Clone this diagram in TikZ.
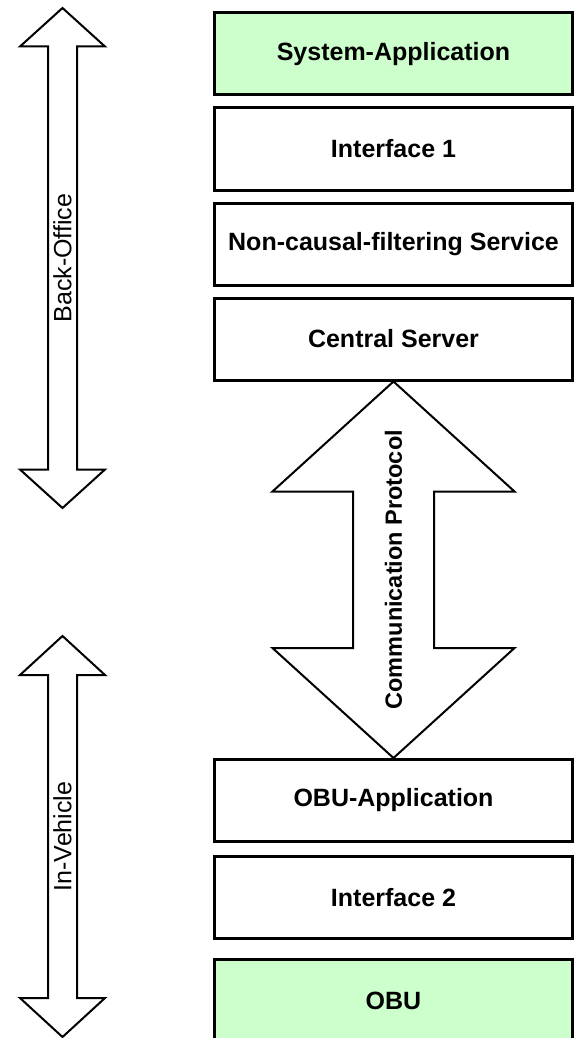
\documentclass[tikz,border=0pt]{standalone}
\usepackage{fontspec}
\setmainfont{Liberation Sans}
\usetikzlibrary{positioning,calc}
\definecolor{LayerGreen}{RGB}{204,255,204}
% hollow double arrow: tip, tip, head half width, head overhang, head length
\newcommand\dblarrow[5]{\draw[fat] (#1) -- ++(#3,#5) -- ++(-#4,0) |- ($(#2)+(#3,-#5)$) -- (#2) -- ++(-#3,-#5) -- ++(#4,0) |- ($(#1)+(-#3,#5)$) -- cycle;}

\begin{document}
\begin{tikzpicture}[x=0.5pt,y=-0.5pt,
node distance=5pt,
layer/.style={rectangle,draw=black,line width=1.5pt,fill=white,minimum width=179pt,minimum height=41pt,inner sep=0pt,font=\fontsize{12.5pt}{15pt}\selectfont\bfseries},
applayer/.style={layer,fill=LayerGreen},
fat/.style={draw=black,line width=1pt,fill=white},
side/.style={rotate=90,inner sep=0pt,font=\fontsize{12.5pt}{15pt}\selectfont}
]
\useasboundingbox (0,0) rectangle (577,1038);
% back-office stack
\node[applayer] (sysapp) at (393.5,54) {System-Application};
\node[layer,below=of sysapp] (if1) {Interface 1};
\node[layer,below=of if1] (ncf) {Non-causal-filtering Service};
\node[layer,below=of ncf] (cs) {Central Server};
% in-vehicle stack
\node[layer] (obuapp) at (393.5,800.5) {OBU-Application};
\node[layer,below=6pt of obuapp] (if2) {Interface 2};
\node[applayer,below=9pt of if2] (obu) {OBU};
% side arrows
\coordinate (bo1) at (62.5,8); \coordinate (bo2) at (62.5,508);
\coordinate (iv1) at (62.5,636); \coordinate (iv2) at (62.5,1037);
\dblarrow{bo1}{bo2}{42.5}{28}{38.5}
\dblarrow{iv1}{iv2}{42.5}{28}{39}
\node[side] (bolbl) at ($(bo1)!0.5!(bo2)$) {Back-Office};
\node[side] (ivlbl) at ($(iv1)!0.5!(iv2)$) {In-Vehicle};
% link between the stacks
\dblarrow{cs.south}{obuapp.north}{121}{80.5}{110}
\node[side,font=\fontsize{11.75pt}{14pt}\selectfont\bfseries] (cplbl) at ($(cs.south)!0.5!(obuapp.north)$) {Communication Protocol};
\end{tikzpicture}
\end{document}
